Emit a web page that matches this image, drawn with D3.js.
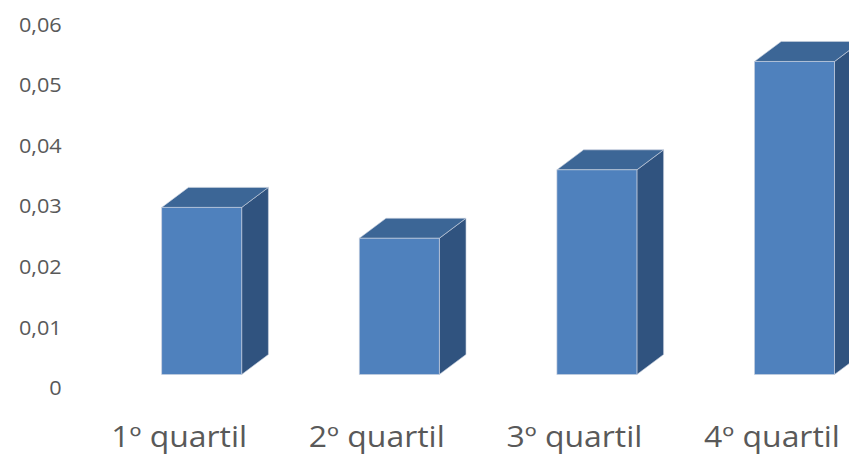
<!DOCTYPE html>
<html>
<head>
<meta charset="utf-8">
<script src="https://cdn.jsdelivr.net/npm/d3@7"></script>
<style>
  html, body { margin: 0; padding: 0; background: #ffffff; }
  svg { display: block; }
  text { font-family: "Open Sans", "Noto Sans", sans-serif; fill: #595959; }
</style>
</head>
<body>
<svg id="chart" width="849" height="457"></svg>
<script>
// Data
const categories = ["1º quartil", "2º quartil", "3º quartil", "4º quartil"];
const values = [0.0276, 0.0225, 0.0338, 0.0517];
const yTicks = [0, 0.01, 0.02, 0.03, 0.04, 0.05, 0.06];

const svg = d3.select("#chart");

// Scales: value axis labelled along the front edge of the floor
const y = d3.scaleLinear().domain([0, 0.06]).range([388.3, 25]);
const x = d3.scaleBand().domain(categories).range([80.4, 870.8]).padding(0);

// 3D box geometry
const frontW = 80;          // width of front face
const depthX = 26.7;        // depth offset to the right
const depthY = -20;         // depth offset upward
const floorShiftX = 22.5;   // front faces sit behind the floor's front edge
const floorShiftY = -13.8;

const colFront = "#4F81BD";
const colTop = "#3C6696";
const colSide = "#30537F";
const edge = "rgba(200,208,222,0.8)";

const fmt = v => d3.format(".2f")(v).replace(".", ",");

// Y-axis labels
const yLab = svg.append("g").attr("class", "y-labels");
yLab.selectAll("text")
  .data(yTicks)
  .join("text")
  .attr("x", 61.7)
  .attr("y", d => y(d) + 6.8)
  .attr("text-anchor", "end")
  .style("font-size", "19.5px")
  .text(d => d === 0 ? "0" : fmt(d))
  .each(function () {
    const n = this.getComputedTextLength();
    d3.select(this).attr("textLength", n * 1.11).attr("lengthAdjust", "spacingAndGlyphs");
  });

// Bars
const bars = svg.append("g").attr("class", "bars")
  .selectAll("g")
  .data(categories.map((c, i) => ({ c, v: values[i] })))
  .join("g");

bars.each(function (d) {
  const g = d3.select(this);
  const cx = x(d.c) + x.bandwidth() / 2 + floorShiftX;
  const x0 = cx - frontW / 2, x1 = cx + frontW / 2;
  const yb = y(0) + floorShiftY, yt = y(d.v) + floorShiftY;
  const pts = a => a.map(p => p.join(",")).join(" ");
  // side face
  g.append("polygon")
    .attr("points", pts([[x1, yt], [x1 + depthX, yt + depthY], [x1 + depthX, yb + depthY], [x1, yb]]))
    .attr("fill", colSide).attr("stroke", edge).attr("stroke-width", 0.8).attr("stroke-linejoin", "round");
  // top face
  g.append("polygon")
    .attr("points", pts([[x0, yt], [x0 + depthX, yt + depthY], [x1 + depthX, yt + depthY], [x1, yt]]))
    .attr("fill", colTop).attr("stroke", edge).attr("stroke-width", 0.8).attr("stroke-linejoin", "round");
  // front face
  g.append("rect")
    .attr("x", x0).attr("y", yt)
    .attr("width", x1 - x0).attr("height", yb - yt)
    .attr("fill", colFront).attr("stroke", edge).attr("stroke-width", 0.8);
});

// Category labels
const xLab = svg.append("g").attr("class", "x-labels");
xLab.selectAll("text")
  .data(categories)
  .join("text")
  .attr("x", d => x(d) + x.bandwidth() / 2)
  .attr("y", 447)
  .attr("text-anchor", "middle")
  .style("font-size", "28.5px")
  .text(d => d)
  .each(function () {
    const n = this.getComputedTextLength();
    d3.select(this).attr("textLength", n * 1.12).attr("lengthAdjust", "spacingAndGlyphs");
  });
</script>
</body>
</html>
